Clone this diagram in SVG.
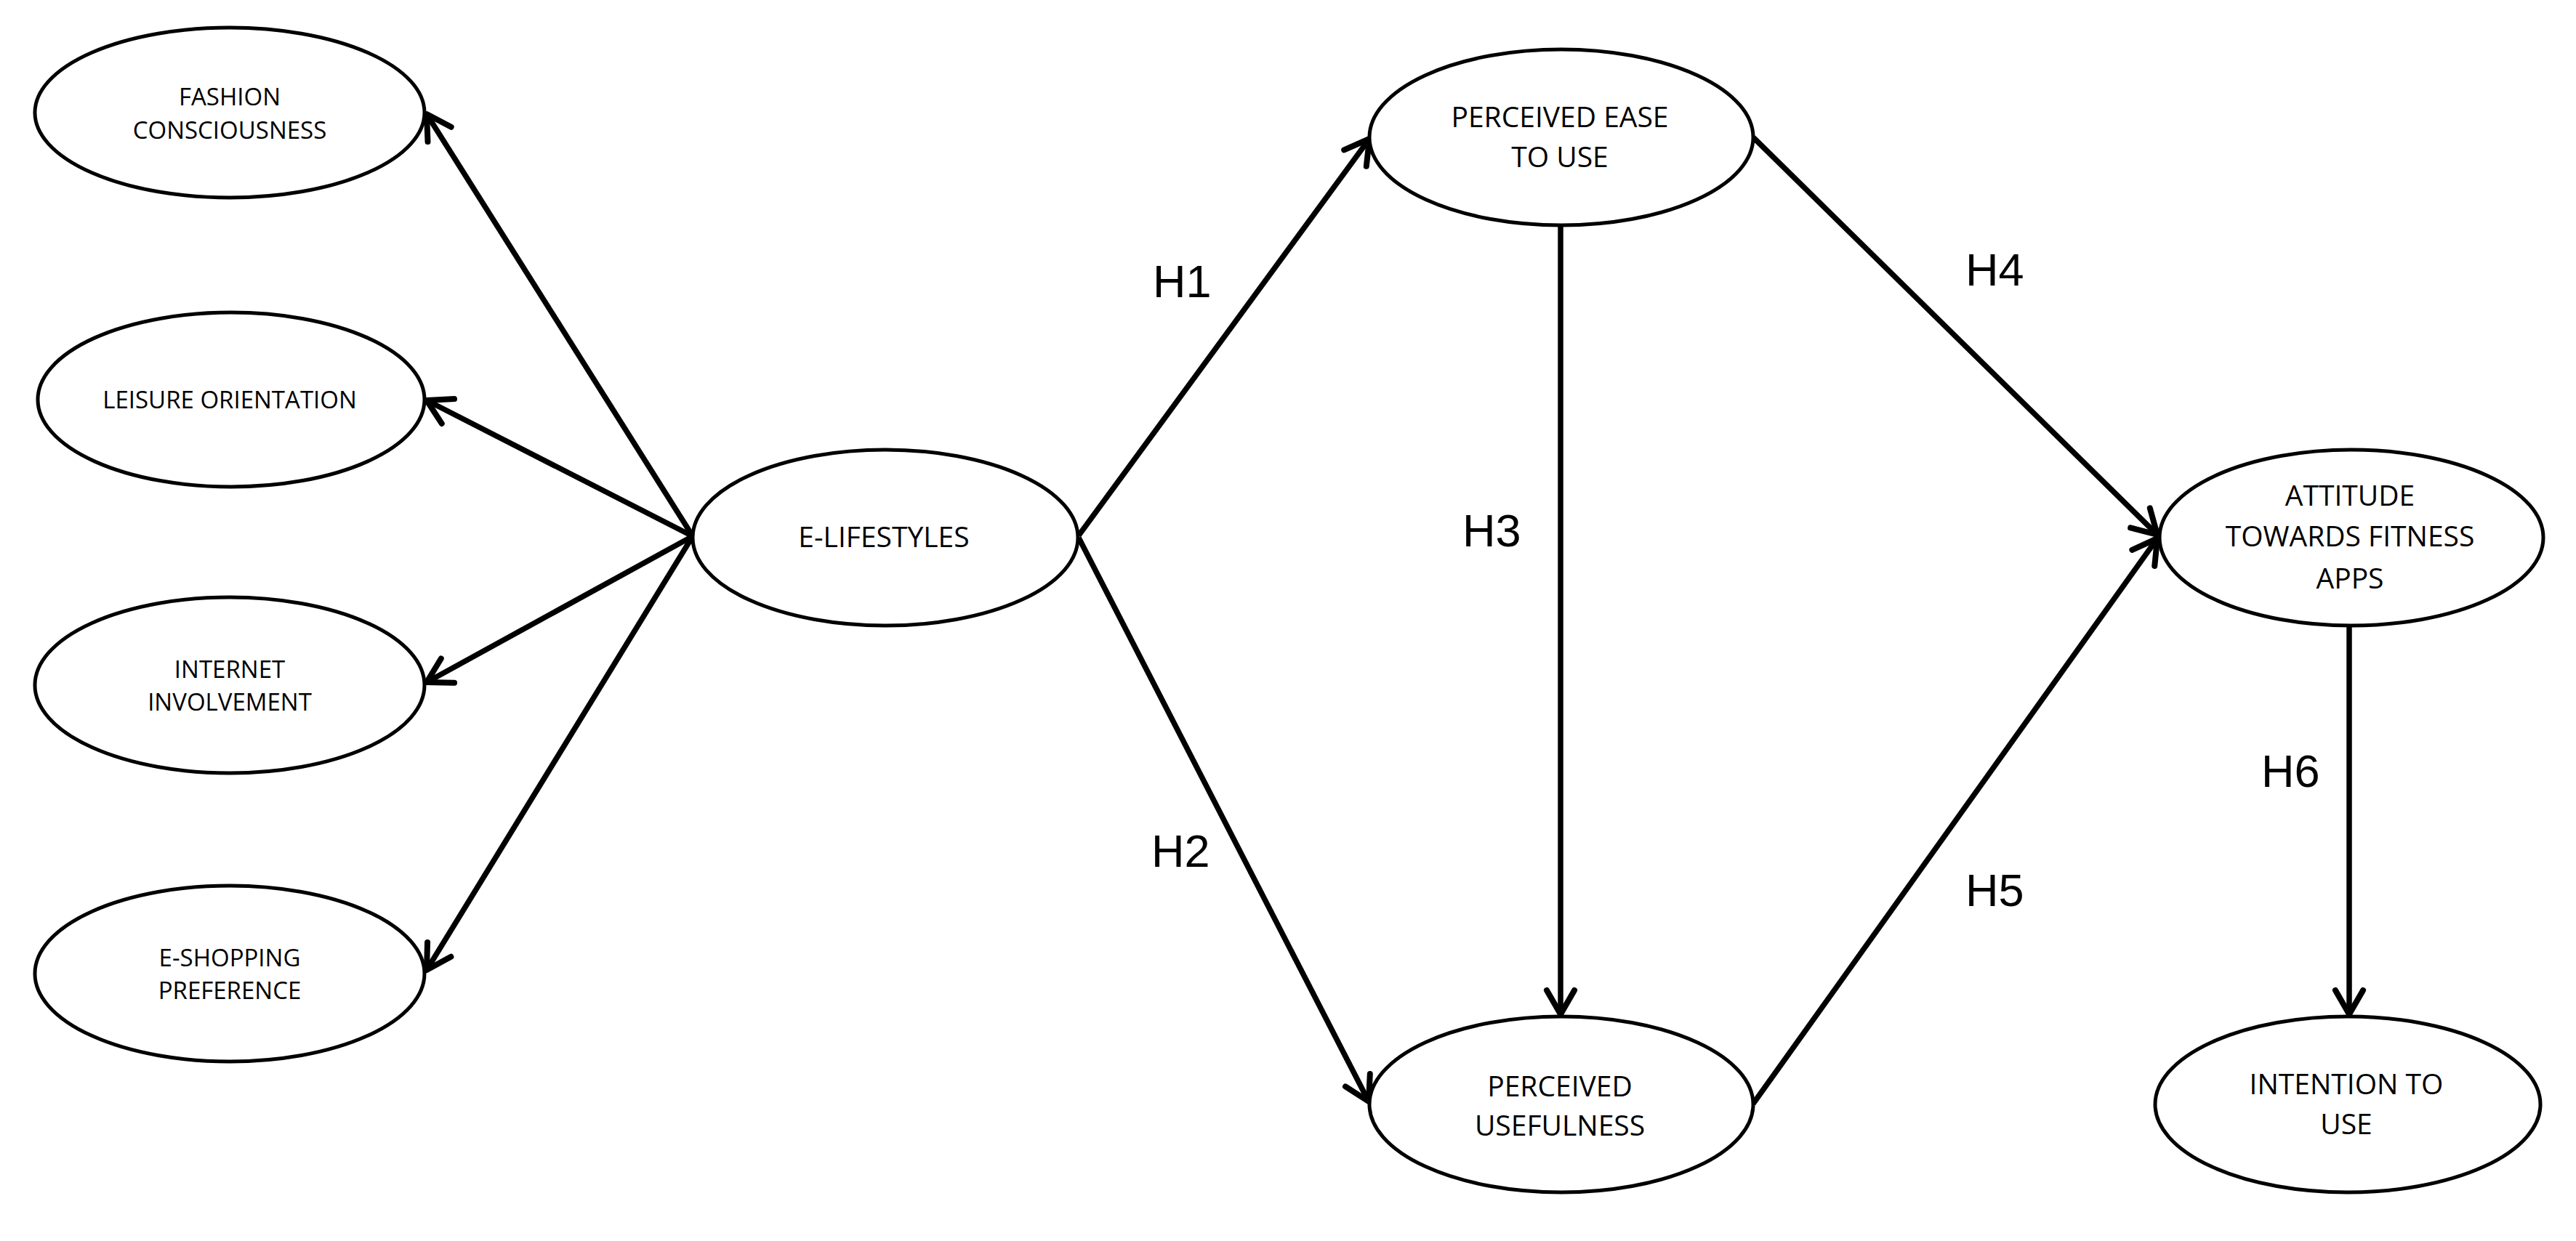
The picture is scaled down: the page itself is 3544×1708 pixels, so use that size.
<svg xmlns="http://www.w3.org/2000/svg" width="3544" height="1708" viewBox="0 0 3544 1708">
<style>
.node ellipse{fill:#fff;stroke:#000;stroke-width:5}
.lt{font-family:"Open Sans","Noto Sans","Liberation Sans",sans-serif;font-size:33px;fill:#000;text-anchor:middle}
.mt{font-family:"Open Sans","Noto Sans","Liberation Sans",sans-serif;font-size:39px;fill:#000;text-anchor:middle}
.hl{font-family:"Liberation Sans",Arial,sans-serif;font-size:63px;fill:#000}
#connectors line{stroke:#000;stroke-width:7.5;marker-end:url(#arr)}
</style>
<defs>
<marker id="arr" markerUnits="userSpaceOnUse" viewBox="-45 -30 55 60" markerWidth="55" markerHeight="60" refX="0" refY="0" orient="auto" overflow="visible">
<path d="M-33,-19 L0,0 L-33,19" fill="none" stroke="#000" stroke-width="8" stroke-linecap="round" stroke-linejoin="round"/>
</marker>
</defs>
<rect width="3544" height="1708" fill="#fff"/>
<g id="connectors">
<line x1="953" y1="738" x2="587" y2="157"/>
<line x1="953" y1="738" x2="587" y2="551"/>
<line x1="953" y1="738" x2="587" y2="939"/>
<line x1="953" y1="738" x2="587" y2="1335"/>
<line x1="1484" y1="737" x2="1884" y2="191"/>
<line x1="1484" y1="740" x2="1883" y2="1516"/>
<line x1="2147" y1="310" x2="2147" y2="1396"/>
<line x1="2412" y1="189" x2="2968" y2="736"/>
<line x1="2412" y1="1519" x2="2968" y2="741"/>
<line x1="3232" y1="861" x2="3232" y2="1396"/>
</g>
<g id="fashion" class="node"><ellipse cx="316" cy="155" rx="268" ry="117"/><text class="lt" x="316" y="145">FASHION</text><text class="lt" x="316" y="191">CONSCIOUSNESS</text></g>
<g id="leisure" class="node"><ellipse cx="318" cy="550" rx="266" ry="120"/><text class="lt" x="316" y="562">LEISURE ORIENTATION</text></g>
<g id="internet" class="node"><ellipse cx="316" cy="943" rx="268" ry="121"/><text class="lt" x="316" y="933">INTERNET</text><text class="lt" x="316" y="978">INVOLVEMENT</text></g>
<g id="eshopping" class="node"><ellipse cx="316" cy="1340" rx="268" ry="121"/><text class="lt" x="316" y="1330">E-SHOPPING</text><text class="lt" x="316" y="1375">PREFERENCE</text></g>
<g id="elifestyles" class="node"><ellipse cx="1218" cy="740" rx="265" ry="121"/><text class="mt" x="1216" y="753">E-LIFESTYLES</text></g>
<g id="peou" class="node"><ellipse cx="2148" cy="189" rx="264" ry="121"/><text class="mt" x="2146" y="175">PERCEIVED EASE</text><text class="mt" x="2146" y="230">TO USE</text></g>
<g id="pu" class="node"><ellipse cx="2148" cy="1520" rx="264" ry="121"/><text class="mt" x="2146" y="1509">PERCEIVED</text><text class="mt" x="2146" y="1563">USEFULNESS</text></g>
<g id="attitude" class="node"><ellipse cx="3235" cy="740" rx="264" ry="121"/><text class="mt" x="3233" y="696">ATTITUDE</text><text class="mt" x="3233" y="752">TOWARDS FITNESS</text><text class="mt" x="3233" y="810">APPS</text></g>
<g id="intention" class="node"><ellipse cx="3230" cy="1520" rx="265" ry="121"/><text class="mt" x="3228" y="1506">INTENTION TO</text><text class="mt" x="3228" y="1561">USE</text></g>
<g id="labels">
<text class="hl" x="1586" y="409">H1</text>
<text class="hl" x="1584" y="1193">H2</text>
<text class="hl" x="2012" y="752">H3</text>
<text class="hl" x="2704" y="393">H4</text>
<text class="hl" x="2704" y="1247">H5</text>
<text class="hl" x="3111" y="1083">H6</text>
</g>
</svg>
